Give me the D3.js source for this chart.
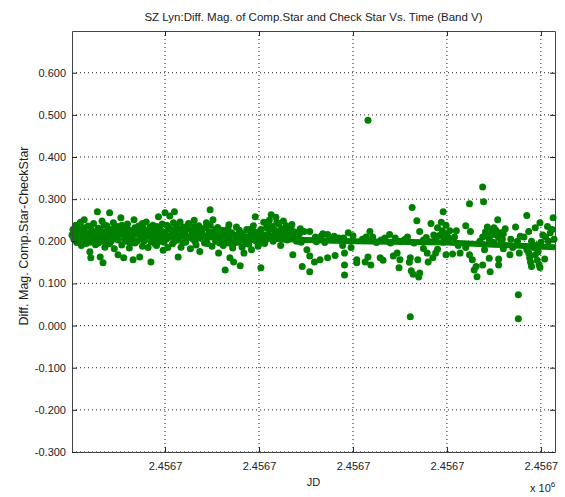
<!DOCTYPE html>
<html>
<head>
<meta charset="utf-8">
<script src="https://cdn.jsdelivr.net/npm/d3@7"></script>
<style>
  body { margin: 0; background: #fff; }
  svg { font-family: "Liberation Sans", Arial, sans-serif; }
</style>
</head>
<body>
<svg id="chart" width="565" height="497"></svg>
<script>
// JD offsets (days after JD0) and diff. magnitudes
const JD0 = 2456700;

const segA = [[0.1,0.215],[0.2,0.228],[0.3,0.205],[0.5,0.238],[0.6,0.197],[0.7,0.222],[0.9,0.21],[1.0,0.245],[1.1,0.19],[1.3,0.232],[1.4,0.251],[1.5,0.203],[1.7,0.218],[1.8,0.236],[2.0,0.175],[2.0,0.198],[2.1,0.161],[2.2,0.226],[2.4,0.242],[2.5,0.208],[2.6,0.192],[2.8,0.27],[2.9,0.231],[3.0,0.215],[3.1,0.163],[3.2,0.2],[3.3,0.248],[3.4,0.149],[3.5,0.222],[3.6,0.186],[3.8,0.237],[3.9,0.207],[4.1,0.268],[4.1,0.194],[4.2,0.228],[4.4,0.213],[4.5,0.244],[4.6,0.182],[4.8,0.221],[5.0,0.168],[5.0,0.203],[5.1,0.235],[5.3,0.256],[5.4,0.191],[5.5,0.216],[5.6,0.161],[5.8,0.229],[5.9,0.2],[6.0,0.241],[6.2,0.184],[6.3,0.212],[6.5,0.225],[6.7,0.251],[6.6,0.156],[6.8,0.196],[7.0,0.218],[7.2,0.236],[7.3,0.163],[7.4,0.205],[7.6,0.188],[7.7,0.23]];

const segB = [[7.9,0.214],[8.0,0.246],[8.2,0.185],[8.3,0.222],[8.5,0.151],[8.5,0.199],[8.7,0.238],[8.8,0.208],[9.0,0.227],[9.1,0.19],[9.3,0.258],[9.4,0.216],[9.5,0.2],[9.7,0.241],[9.8,0.179],[10.0,0.268],[10.0,0.222],[10.1,0.206],[10.3,0.185],[10.4,0.232],[10.5,0.26],[10.6,0.213],[10.8,0.194],[10.9,0.244],[11.0,0.27],[11.2,0.225],[11.4,0.163],[11.4,0.203],[11.6,0.246],[11.7,0.186],[11.9,0.218],[12.0,0.234],[12.2,0.198],[12.3,0.21],[12.5,0.242],[12.7,0.182],[12.8,0.226],[13.0,0.205],[13.1,0.25],[13.3,0.191],[13.4,0.219],[13.6,0.237],[13.7,0.176],[13.9,0.212]];

const segC = [[14.0,0.229],[14.2,0.196],[14.4,0.244],[14.5,0.208],[14.7,0.222],[14.8,0.275],[15.0,0.188],[15.1,0.251],[15.2,0.215],[15.4,0.2],[15.6,0.233],[15.7,0.172],[15.9,0.211],[16.0,0.226],[16.2,0.19],[16.4,0.132],[16.4,0.205],[16.6,0.218],[16.8,0.239],[16.9,0.161],[17.0,0.195],[17.2,0.184],[17.3,0.151],[17.4,0.212],[17.6,0.234],[17.8,0.198],[18.0,0.142],[18.0,0.22],[18.2,0.186],[18.4,0.172],[18.5,0.207],[18.7,0.228],[18.9,0.193],[19.1,0.215],[19.2,0.18],[19.4,0.237],[19.6,0.258],[19.7,0.2],[19.9,0.188],[20.0,0.222],[20.2,0.137],[20.3,0.209],[20.5,0.245],[20.6,0.195],[20.8,0.232]];

const segD = [[21.0,0.218],[21.1,0.25],[21.3,0.263],[21.4,0.235],[21.5,0.2],[21.7,0.226],[21.8,0.257],[22.0,0.212],[22.1,0.241],[22.3,0.19],[22.4,0.23],[22.6,0.248],[22.7,0.215],[22.9,0.237],[23.0,0.203],[23.2,0.225],[23.6,0.168],[23.4,0.232],[23.6,0.21],[23.8,0.222],[24.1,0.206],[24.3,0.218],[24.5,0.198],[24.6,0.14],[24.8,0.223],[25.1,0.18],[25.4,0.128],[25.4,0.165],[25.4,0.223],[25.9,0.151],[26.1,0.199],[26.5,0.156],[26.6,0.212],[27.0,0.197],[27.3,0.161],[27.3,0.216],[27.8,0.205],[28.1,0.166],[28.5,0.208],[28.9,0.19],[29.1,0.172],[29.1,0.144],[29.1,0.12],[29.5,0.22],[29.8,0.185],[30.4,0.156],[30.4,0.149]];

const segE = [[31.0,0.205],[31.3,0.151],[31.6,0.163],[31.8,0.223],[31.9,0.144],[32.1,0.21],[32.5,0.197],[32.9,0.161],[33.0,0.203],[33.2,0.155],[33.9,0.216],[34.0,0.196],[34.3,0.165],[34.5,0.208],[34.7,0.172],[34.9,0.137],[35.0,0.2],[35.0,0.156],[35.5,0.204],[36.0,0.15],[36.1,0.161],[36.2,0.13],[36.3,0.28],[36.4,0.122],[36.5,0.196],[36.8,0.249],[36.9,0.156],[37.0,0.115],[37.1,0.125],[37.1,0.223],[37.5,0.203],[37.5,0.183],[37.9,0.172],[38.0,0.151],[38.3,0.242],[38.3,0.199],[38.5,0.161],[38.6,0.215],[38.8,0.172],[38.8,0.205],[39.0,0.232],[39.0,0.181],[39.5,0.225],[39.6,0.27],[39.6,0.198],[39.8,0.218],[39.9,0.238],[39.9,0.168],[40.1,0.21],[40.6,0.17]];

const segF = [[40.8,0.21],[41.0,0.225],[41.2,0.19],[41.4,0.172],[42.0,0.237],[42.0,0.185],[42.4,0.289],[42.4,0.168],[42.5,0.223],[42.7,0.156],[42.9,0.132],[43.1,0.14],[43.2,0.116],[43.8,0.329],[43.8,0.21],[43.8,0.144],[43.9,0.294],[44.0,0.18],[44.2,0.215],[44.3,0.234],[44.5,0.205],[44.5,0.16],[44.6,0.128],[44.8,0.225],[44.9,0.198],[45.2,0.226],[45.3,0.215],[45.4,0.251],[45.5,0.208],[45.5,0.158],[45.5,0.144],[45.7,0.22],[45.8,0.2],[46.0,0.218],[46.0,0.182],[46.2,0.23],[46.7,0.168],[46.8,0.205],[47.0,0.185],[47.3,0.234],[47.7,0.172],[47.8,0.212],[48.5,0.261],[48.5,0.18],[48.7,0.223],[48.7,0.172],[48.8,0.161],[48.9,0.15],[49.0,0.2],[49.0,0.14],[49.4,0.232],[49.4,0.168],[49.6,0.155],[49.8,0.145],[49.9,0.244],[49.9,0.138],[50.2,0.215],[50.4,0.158],[50.5,0.21],[50.7,0.235],[51.0,0.22],[51.3,0.256],[51.4,0.205]];

// core of the crowded cloud
const coreA = [[0.2,0.212],[0.4,0.224],[0.6,0.233],[0.8,0.2],[1.0,0.219],[1.2,0.207],[1.4,0.227],[1.6,0.195],[1.9,0.214],[2.1,0.235],[2.3,0.203],[2.5,0.222],[2.7,0.212],[2.9,0.196],[3.1,0.228],[3.3,0.211],[3.5,0.239],[3.7,0.201],[3.9,0.225],[4.0,0.21],[4.3,0.201],[4.5,0.227],[4.7,0.235],[4.9,0.209],[5.2,0.222],[5.4,0.238],[5.7,0.205],[5.9,0.218],[6.1,0.228],[6.3,0.196],[6.5,0.208],[6.8,0.232],[7.0,0.2],[7.1,0.225],[7.4,0.216],[7.6,0.242],[7.8,0.201],[8.0,0.224],[8.2,0.212],[8.4,0.233],[8.6,0.218],[8.9,0.195],[9.1,0.235],[9.3,0.207],[9.5,0.228],[9.7,0.214],[9.9,0.198],[10.2,0.238]];

const coreB = [[10.4,0.209],[10.6,0.228],[10.8,0.218],[11.0,0.2],[11.2,0.237],[11.5,0.213],[11.7,0.229],[11.9,0.197],[12.1,0.222],[12.4,0.23],[12.6,0.209],[12.9,0.216],[13.1,0.235],[13.2,0.2],[13.5,0.226],[13.7,0.208],[14.0,0.216],[14.3,0.232],[14.5,0.195],[14.8,0.238],[15.0,0.21],[15.3,0.228],[15.5,0.219],[15.8,0.196],[16.0,0.21],[16.3,0.225],[16.5,0.196],[16.7,0.23],[17.0,0.208],[17.1,0.22],[17.4,0.196],[17.7,0.215],[17.9,0.226],[18.1,0.203],[18.3,0.218],[18.6,0.195],[18.8,0.21],[19.0,0.228],[19.3,0.204],[19.5,0.222],[19.8,0.212],[20.0,0.195],[20.2,0.228],[20.4,0.216],[20.7,0.203],[20.9,0.244]];

const coreC = [[21.2,0.23],[21.6,0.214],[21.9,0.245],[22.2,0.222],[22.5,0.205],[22.8,0.228],[23.1,0.213],[23.5,0.24],[24.0,0.2],[24.4,0.23],[26.0,0.21],[26.8,0.218],[28.0,0.212],[29.0,0.208],[30.0,0.213],[31.4,0.21],[33.4,0.208],[35.8,0.21],[37.8,0.209],[39.2,0.214],[39.4,0.245],[39.7,0.208],[40.3,0.225],[40.5,0.2],[43.5,0.2],[44.1,0.222],[44.7,0.215],[45.0,0.232],[45.9,0.205],[47.5,0.2],[48.2,0.21],[49.2,0.185],[49.5,0.19],[49.7,0.175],[50.0,0.198],[50.8,0.2],[51.2,0.228]];

// isolated outliers
const outliers = [[31.6,0.487],[36.1,0.021],[47.6,0.073],[47.6,0.016]];

// dense run of observations that merge into a thick band
const bandDay = [0.1, 10, 20, 25, 30, 40, 45, 51.5];
const bandMag = [0.220, 0.214, 0.207, 0.203, 0.200, 0.197, 0.192, 0.186];

const xTicks = [10, 20, 30, 40, 50];
const yTicks = [-0.3, -0.2, -0.1, 0, 0.1, 0.2, 0.3, 0.4, 0.5, 0.6];

const points = [].concat(segA, segB, segC, segD, segE, segF, coreA, coreB, coreC, outliers);

const margin = { left: 72, right: 10, top: 31, bottom: 45 };
const width = 565, height = 497;
const green = "#008000";

const x = d3.scaleLinear().domain([0.1, 51.5]).range([margin.left, width - margin.right]);
const y = d3.scaleLinear().domain([-0.3, 0.699]).range([height - margin.bottom, margin.top]);

const svg = d3.select("#chart");

// dotted grid
svg.append("g")
  .selectAll("line")
  .data(xTicks)
  .join("line")
  .attr("x1", d => x(d)).attr("x2", d => x(d))
  .attr("y1", margin.top).attr("y2", height - margin.bottom)
  .attr("stroke", "#222").attr("stroke-width", 1)
  .attr("stroke-dasharray", "1,3");

svg.append("g")
  .selectAll("line")
  .data(yTicks)
  .join("line")
  .attr("x1", margin.left).attr("x2", width - margin.right)
  .attr("y1", d => y(d)).attr("y2", d => y(d))
  .attr("stroke", "#222").attr("stroke-width", 1)
  .attr("stroke-dasharray", "1,3");

// the band
const band = bandDay.map((d, i) => [d, bandMag[i]]);
svg.append("path")
  .datum(band)
  .attr("d", d3.line().x(d => x(d[0])).y(d => y(d[1])))
  .attr("fill", "none")
  .attr("stroke", green)
  .attr("stroke-width", 6);

// observations
svg.append("g")
  .selectAll("circle")
  .data(points)
  .join("circle")
  .attr("cx", d => x(d[0]))
  .attr("cy", d => y(d[1]))
  .attr("r", 3.5)
  .attr("fill", green);

// axes, MATLAB style: ticks inside, on all four sides
const fmtX = d => ((JD0 + d) / 1e6).toFixed(4);
const fmtY = d => d3.format(".3f")(d).replace("−", "-");

svg.append("g")
  .attr("transform", `translate(0,${height - margin.bottom})`)
  .call(d3.axisBottom(x).tickValues(xTicks).tickFormat(fmtX).tickSizeInner(-5).tickSizeOuter(0).tickPadding(10));
svg.append("g")
  .attr("transform", `translate(0,${margin.top})`)
  .call(d3.axisTop(x).tickValues(xTicks).tickFormat("").tickSizeInner(-5).tickSizeOuter(0));
svg.append("g")
  .attr("transform", `translate(${margin.left},0)`)
  .call(d3.axisLeft(y).tickValues(yTicks).tickFormat(fmtY).tickSizeInner(-5).tickSizeOuter(0).tickPadding(6));
svg.append("g")
  .attr("transform", `translate(${width - margin.right},0)`)
  .call(d3.axisRight(y).tickValues(yTicks).tickFormat("").tickSizeInner(-5).tickSizeOuter(0));

svg.selectAll(".domain").attr("stroke", "#444");
svg.selectAll(".tick line").attr("stroke", "#222");
svg.selectAll(".tick text").attr("fill", "#222").attr("font-size", 11)
  .attr("font-family", "Liberation Sans, Arial, sans-serif");

// titles
svg.append("text")
  .attr("x", (margin.left + width - margin.right) / 2).attr("y", 21)
  .attr("text-anchor", "middle").attr("font-size", 11.5).attr("fill", "#222")
  .text("SZ Lyn:Diff. Mag. of Comp.Star and Check Star Vs. Time (Band V)");

svg.append("text")
  .attr("x", (margin.left + width - margin.right) / 2).attr("y", 486)
  .attr("text-anchor", "middle").attr("font-size", 11).attr("fill", "#222")
  .text("JD");

svg.append("text")
  .attr("transform", `translate(28,236) rotate(-90)`)
  .attr("text-anchor", "middle").attr("font-size", 12.5).attr("fill", "#222")
  .text("Diff. Mag. Comp.Star-CheckStar");

const exp = svg.append("text")
  .attr("x", 530).attr("y", 492)
  .attr("font-size", 11).attr("fill", "#222");
exp.append("tspan").text("x 10");
exp.append("tspan").attr("dy", -5).attr("font-size", 8).text("6");
</script>
</body>
</html>
